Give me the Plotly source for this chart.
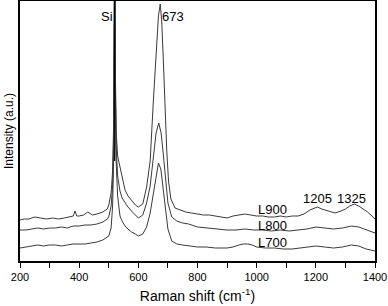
import plotly.graph_objects as go

# Raman shift (cm^-1) and intensities (a.u.)
x_l900 = [200, 215, 230, 250, 270, 290, 310, 330, 350, 370, 380, 386, 392, 400, 415, 429, 436, 445, 460, 480, 495,
          500, 508, 513, 516, 518, 520, 522, 525, 530, 538, 545, 555, 565, 577, 590, 600, 615, 628, 640, 651, 657,
          662, 668, 674, 679, 684, 690, 696, 702, 710, 724, 740, 760, 780, 800, 820, 840, 860, 880, 900, 920, 940,
          960, 980, 1000, 1020, 1040, 1060, 1080, 1100, 1120, 1140, 1160, 1180, 1195, 1205, 1220, 1240, 1265, 1285,
          1300, 1315, 1330, 1345, 1360, 1375, 1390, 1400]
y_l900 = [41, 42, 42, 44, 43, 42, 43, 42, 43, 44, 45, 50, 45, 45, 46, 49, 48, 46, 47, 49, 52,
          56, 68, 90, 130, 200, 320, 200, 130, 105, 94, 82, 71, 65, 61, 56, 54, 57, 74, 100, 161, 195,
          221, 245, 257, 240, 205, 150, 111, 80, 62, 53, 51, 49, 48, 47, 46, 46, 45, 44, 43, 45, 46,
          47, 46, 45, 45, 44, 44, 45, 44, 45, 45, 47, 51, 53, 54, 52, 50, 48, 50,
          52, 55, 57, 55, 52, 49, 45, 42]

x_l800 = [200, 220, 240, 260, 280, 300, 320, 340, 360, 380, 400, 420, 440, 460, 480, 495,
          500, 508, 513, 516, 518, 520, 522, 525, 530, 538, 545, 555, 565, 577, 590, 600, 615, 628, 640, 651,
          660, 669, 677, 684, 692, 700, 713, 730, 750, 770, 800, 830, 860, 900, 930, 960, 990, 1020, 1050,
          1080, 1110, 1140, 1170, 1200, 1230, 1260, 1290, 1320, 1345, 1370, 1400]
y_l800 = [31, 31, 32, 33, 32, 33, 33, 34, 33, 35, 35, 36, 36, 37, 39, 42,
          44, 55, 75, 115, 190, 320, 190, 115, 85, 70, 63, 58, 54, 50, 46, 43, 46, 58, 75, 104,
          128, 138, 128, 108, 80, 58, 44, 40, 38, 37, 34, 33, 32, 31, 31, 32, 31, 31, 30,
          31, 30, 31, 32, 34, 33, 32, 33, 35, 34, 31, 28]

x_l700 = [200, 220, 240, 260, 280, 300, 320, 340, 360, 380, 400, 420, 440, 460, 480, 495,
          500, 508, 513, 516, 518, 520, 522, 525, 530, 538, 545, 555, 565, 577, 590, 600, 615, 628, 640, 651,
          660, 668, 676, 684, 692, 700, 713, 730, 750, 770, 800, 830, 860, 900, 920, 940, 955, 970, 985,
          1000, 1030, 1060, 1090, 1120, 1150, 1180, 1200, 1230, 1260, 1290, 1320, 1345, 1370, 1400]
y_l700 = [13, 14, 15, 16, 15, 16, 16, 15, 16, 17, 17, 17, 18, 19, 21, 24,
          25, 33, 55, 95, 180, 320, 180, 100, 65, 45, 40, 35, 32, 29, 27, 25, 27, 34, 48, 68,
          88, 98, 92, 72, 50, 32, 20, 17, 16, 15, 14, 14, 13, 13, 14, 16, 17, 17, 16,
          14, 13, 13, 12, 12, 13, 14, 15, 14, 13, 14, 16, 15, 12, 10]

peak_labels = ["Si", "673", "1205", "1325"]
peak_x = [494, 717, 1204, 1322]
peak_y = [245, 245, 63, 63]

sample_labels = ["L900", "L800", "L700"]
sample_x = [1055, 1055, 1055]
sample_y = [52, 36, 19]

si_line_x = 520
si_line_y = [100, 260]

x_ticks = [200, 400, 600, 800, 1000, 1200, 1400]

line_color = "#3a3a3a"
font = "Liberation Sans, Arial, sans-serif"

fig = go.Figure()
for xs, ys, name in [(x_l900, y_l900, "L900"), (x_l800, y_l800, "L800"), (x_l700, y_l700, "L700")]:
    fig.add_trace(go.Scatter(x=xs, y=ys, mode="lines", name=name,
                             line=dict(color=line_color, width=1), showlegend=False))

fig.add_trace(go.Scatter(x=[si_line_x, si_line_x], y=si_line_y, mode="lines",
                         line=dict(color="black", width=1.2), showlegend=False))

for t, xx, yy in zip(peak_labels, peak_x, peak_y):
    fig.add_annotation(x=xx, y=yy, text=t, showarrow=False,
                       font=dict(family=font, size=13, color="black"))
for t, xx, yy in zip(sample_labels, sample_x, sample_y):
    fig.add_annotation(x=xx, y=yy, text=t, showarrow=False,
                       font=dict(family=font, size=13, color="black"))

fig.update_layout(
    width=388, height=306,
    margin=dict(l=20, r=13, t=1, b=45),
    plot_bgcolor="white", paper_bgcolor="white",
    font=dict(family=font, size=12, color="black"),
    xaxis=dict(range=[200, 1400], tickvals=x_ticks, ticks="outside", ticklen=5, tickwidth=1,
               tickcolor="black", showline=True, linecolor="black", linewidth=1.5, mirror=True,
               showgrid=False, zeroline=False, automargin=False, ticklabeloverflow="allow",
               minor=dict(dtick=100, ticks="outside", ticklen=5, tickcolor="black", tickwidth=1),
               title=dict(text="Raman shift (cm<sup>-1</sup>)", font=dict(size=14), standoff=9),
               tickfont=dict(size=11)),
    yaxis=dict(range=[0, 260], showticklabels=False, ticks="", showline=True, linecolor="black",
               linewidth=1.5, mirror=True, showgrid=False, zeroline=False, automargin=False,
               title=dict(text="Intensity (a.u.)", font=dict(size=12), standoff=2)),
)

fig.write_html("out.html", config={"displayModeBar": False},
               post_script="document.body.style.margin='0';document.body.style.overflow='hidden';")
